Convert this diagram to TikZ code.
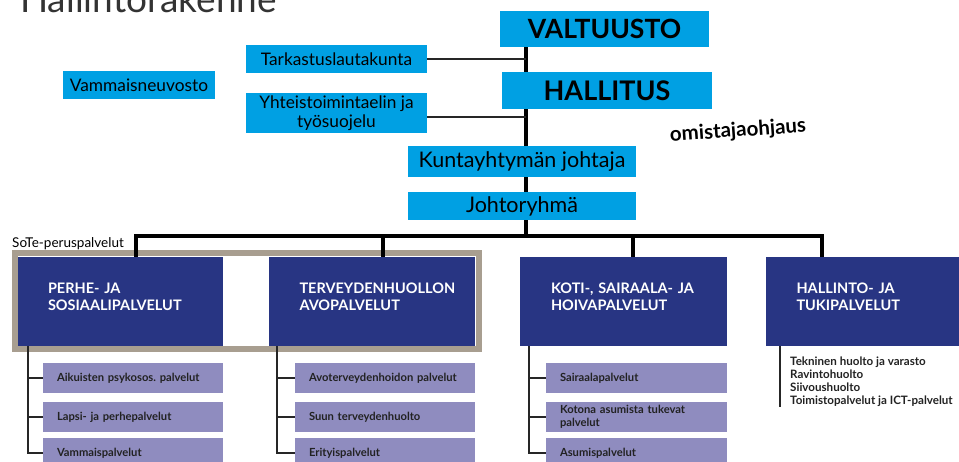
\documentclass[tikz,border=0pt]{standalone}
\usepackage{fontspec}
\setmainfont{Lato}
\frenchspacing
\usetikzlibrary{backgrounds}
\definecolor{cblue}{HTML}{00A0E3}
\definecolor{navy}{HTML}{283583}
\definecolor{lav}{HTML}{8F8CBF}
\definecolor{taupe}{HTML}{A89E90}
\definecolor{titlegray}{HTML}{333333}
\definecolor{subtext}{HTML}{222222}
\begin{document}
\begin{tikzpicture}[x=1pt,y=-1pt,
  topbox/.style={fill=cblue, inner sep=0pt, text=black, align=center},
  unitbox/.style={fill=navy, inner sep=0pt, minimum width=205pt, minimum height=89pt},
  ulabel/.style={text=white, inner sep=0pt, text width=145pt, align=left, yshift=5pt,
    font=\fontsize{14.5}{17}\selectfont\bfseries},
  subbox/.style={fill=lav, inner sep=0pt, minimum width=180pt, minimum height=30pt,
    text width=152pt, align=left, text=subtext, font=\fontsize{11.2}{12.5}\selectfont\bfseries},
  mainline/.style={line width=4pt, black},
  sideline/.style={line width=1.8pt, black!85},
  treeline/.style={line width=1.5pt, black!85}
]
\useasboundingbox (0,0) rectangle (959,461);

% title
\node[anchor=base west, inner sep=0pt, text=titlegray, font=\fontsize{37}{40}\selectfont] (title) at (20,12) {Hallintorakenne};

% top boxes
\node[topbox, minimum width=209pt, minimum height=36pt, font=\fontsize{26.5}{30}\selectfont\bfseries] (valt) at (604.5,29) {VALTUUSTO};
\node[topbox, minimum width=210pt, minimum height=37pt, font=\fontsize{27}{30}\selectfont\bfseries] (hall) at (607,90.5) {HALLITUS};
\node[topbox, minimum width=181pt, minimum height=28pt, font=\fontsize{17.3}{19}\selectfont] (tark) at (336.5,59) {Tarkastuslautakunta};
\node[topbox, minimum width=152pt, minimum height=28pt, font=\fontsize{17.3}{19}\selectfont] (vamm) at (139,85) {Vammaisneuvosto};
\node[topbox, minimum width=181pt, minimum height=40pt, font=\fontsize{17.3}{19}\selectfont] (yht) at (336.5,113) {Yhteistoimintaelin ja\\työsuojelu};
\node[topbox, minimum width=228pt, minimum height=31pt, font=\fontsize{21.5}{24}\selectfont] (kj) at (522,161.5) {Kuntayhtymän johtaja};
\node[topbox, minimum width=228pt, minimum height=28pt, font=\fontsize{21.5}{24}\selectfont] (jr) at (522,206) {Johtoryhmä};

\node[rotate=4, inner sep=0pt, font=\fontsize{20.5}{22}\selectfont\bfseries] (omist) at (738,131) {omistajaohjaus};

\node[anchor=base west, inner sep=0pt, font=\fontsize{13.5}{15}\selectfont] (sote) at (12,247) {SoTe-peruspalvelut};

% unit boxes
\node[unitbox, label={[ulabel]center:{PERHE- JA\\SOSIAALIPALVELUT}}] (perhe) at (120.5,301.5) {};
\node[unitbox, minimum width=206pt, label={[ulabel]center:{TERVEYDENHUOLLON\\AVOPALVELUT}}] (terv) at (372,301.5) {};
\node[unitbox, minimum width=207pt, label={[ulabel]center:{KOTI-, SAIRAALA- JA\\HOIVAPALVELUT}}] (koti) at (623.5,301.5) {};
\node[unitbox, minimum width=206pt, label={[ulabel]center:{HALLINTO- JA\\TUKIPALVELUT}}] (hallinto) at (869,301.5) {};

% sub boxes
\node[subbox] (s11) at (133,378) {Aikuisten psykosos. palvelut};
\node[subbox] (s12) at (133,417) {Lapsi- ja perhepalvelut};
\node[subbox] (s13) at (133,453) {Vammaispalvelut};
\node[subbox] (s21) at (385,378) {Avoterveydenhoidon palvelut};
\node[subbox] (s22) at (385,417) {Suun terveydenhuolto};
\node[subbox] (s23) at (385,453) {Erityispalvelut};
\node[subbox, minimum width=181pt, text width=153pt] (s31) at (636.5,378) {Sairaalapalvelut};
\node[subbox, minimum width=181pt, text width=153pt] (s32) at (636.5,417) {Kotona asumista tukevat\\palvelut};
\node[subbox, minimum width=181pt, text width=153pt] (s33) at (636.5,453) {Asumispalvelut};

\node[anchor=north west, inner sep=0pt, align=left, text=subtext, font=\fontsize{11.6}{13}\selectfont\bfseries] (hlist) at (790,357) {Tekninen huolto ja varasto\\Ravintohuolto\\Siivoushuolto\\Toimistopalvelut ja ICT-palvelut};

\begin{scope}[on background layer]
  % frame
  \draw[taupe, line width=6pt] (15,253) rectangle (479,349);
  % main spine
  \coordinate (bus) at (526,236);
  \draw[mainline] (valt.south -| bus) -- (bus);
  \draw[sideline] (tark.east) -- (tark.east -| bus);
  \draw[sideline] ([yshift=-4pt]yht.east) -- ([yshift=-4pt]yht.east -| bus);
  % bus and drops
  \coordinate (d1) at (136,236);
  \coordinate (d2) at (383,236);
  \coordinate (d3) at (633,236);
  \coordinate (d4) at (822,236);
  \draw[mainline, line join=miter] (d1 |- perhe.north) -- (d1) -- (d4) -- (d4 |- hallinto.north);
  \draw[mainline] (d2) -- (d2 |- terv.north);
  \draw[mainline] (d3) -- (d3 |- koti.north);
  % trees
  \coordinate (t1) at (28,346);
  \coordinate (t2) at (277,346);
  \coordinate (t3) at (529,346);
  \draw[treeline] (t1) |- (s11.west) (t1) |- (s12.west) (t1) |- (s13.west);
  \draw[treeline] (t2) |- (s21.west) (t2) |- (s22.west) (t2) |- (s23.west);
  \draw[treeline] (t3) |- (s31.west) (t3) |- (s32.west) (t3) |- (s33.west);
  \coordinate (t4) at (780,346);
  \draw[treeline] (t4) -- (t4 |- hlist.south);
\end{scope}
\end{tikzpicture}
\end{document}
